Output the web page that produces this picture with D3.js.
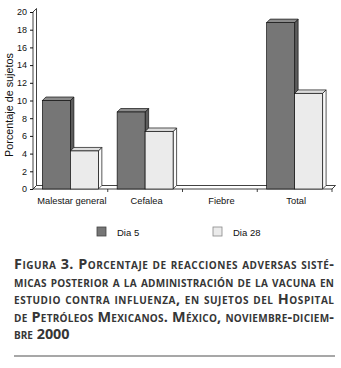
<!DOCTYPE html>
<html>
<head>
<meta charset="utf-8">
<script src="https://cdn.jsdelivr.net/npm/d3@7"></script>
<style>
  body { margin: 0; background: #fff; }
  svg { display: block; }
  .tick text { font-family: "Liberation Sans", Arial, sans-serif; fill: #111; }
  .caption { font-family: "Open Sans", sans-serif; font-weight: 700; font-variant: small-caps; fill: #363636; }
</style>
</head>
<body>
<div id="chart"></div>
<script>
// data
var categories = ["Malestar general", "Cefalea", "Fiebre", "Total"];
var seriesNames = ["Dia 5", "Dia 28"];
var dia5 = [10, 8.7, 0, 18.8];
var dia28 = [4.3, 6.5, 0, 10.8];
var yTicks = [0, 2, 4, 6, 8, 10, 12, 14, 16, 18, 20];
var yLabel = "Porcentaje de sujetos";
var captionLines = [
  "Figura 3. Porcentaje de reacciones adversas sisté-",
  "micas posterior a la administración de la vacuna en",
  "estudio contra influenza, en sujetos del Hospital",
  "de Petróleos Mexicanos. México, noviembre-diciem-",
  "bre 2000"
];

var width = 341, height = 368;
var depth = 3.5;
var colors = {
  "Dia 5": { front: "#767676", side: "#5c5c5c", top: "#8c8c8c" },
  "Dia 28": { front: "#ebebeb", side: "#fafafa", top: "#dcdcdc" }
};

var svg = d3.select("#chart")
  .append("svg")
  .attr("width", width)
  .attr("height", height);

// scales
var xScale = d3.scaleBand()
  .domain(categories)
  .range([33, 332]);

var xSub = d3.scaleBand()
  .domain(seriesNames)
  .range([9.4, xScale.bandwidth() - 9.4]);

var yScale = d3.scaleLinear()
  .domain([0, 20])
  .range([189, 12]);

var y0 = yScale(0);

// side wall (y axis)
svg.append("path")
  .attr("d", `M33,${y0} L33,${yScale(20)} L${33 + depth},${yScale(20) - depth} L${33 + depth},${y0 - depth} Z`)
  .attr("fill", "#fff")
  .attr("stroke", "#111")
  .attr("stroke-width", 0.8);

// floor
svg.append("path")
  .attr("d", `M33,${y0} L332,${y0} L${332 + depth},${y0 - depth} L${33 + depth},${y0 - depth} Z`)
  .attr("fill", "#fff")
  .attr("stroke", "#111")
  .attr("stroke-width", 0.8);

// Y axis
var yAxis = d3.axisLeft(yScale)
  .tickValues(yTicks)
  .tickSize(3)
  .tickPadding(3);

var yG = svg.append("g")
  .attr("transform", "translate(33,0)")
  .call(yAxis);
yG.select(".domain").remove();
yG.selectAll(".tick line").attr("stroke", "#111");
yG.selectAll(".tick text").style("font-size", "9px");

// Y label
svg.append("text")
  .attr("transform", `translate(12.5,105) rotate(-90)`)
  .attr("text-anchor", "middle")
  .style("font-family", "Liberation Sans, Arial, sans-serif")
  .style("font-size", "10.8px")
  .attr("fill", "#111")
  .text(yLabel);

// X axis: boundary ticks
var bounds = categories.map(c => xScale(c)).concat([xScale(categories[categories.length - 1]) + xScale.bandwidth()]);
svg.append("g")
  .selectAll("line")
  .data(bounds.slice(1))
  .enter()
  .append("line")
  .attr("x1", d => d).attr("x2", d => d)
  .attr("y1", y0).attr("y2", y0 + 3)
  .attr("stroke", "#111")
  .attr("stroke-width", 0.8);

// X labels
var xAxis = d3.axisBottom(xScale)
  .tickSize(0)
  .tickPadding(8);
var xG = svg.append("g")
  .attr("transform", `translate(1.5,${y0})`)
  .call(xAxis);
xG.select(".domain").remove();
xG.selectAll(".tick text").style("font-size", "9.3px");

// bars
var barData = [];
categories.forEach((c, i) => {
  barData.push({ cat: c, s: "Dia 5", v: dia5[i] });
  barData.push({ cat: c, s: "Dia 28", v: dia28[i] });
});
barData = barData.filter(d => d.v > 0);

var barsG = svg.append("g").attr("class", "bars");
var bw = xSub.bandwidth();

var bar = barsG.selectAll("g")
  .data(barData)
  .enter()
  .append("g");

bar.append("path")
  .attr("d", d => {
    var x = xScale(d.cat) + xSub(d.s) + bw, y = yScale(d.v);
    return `M${x},${y} L${x + depth},${y - depth} L${x + depth},${y0 - depth} L${x},${y0} Z`;
  })
  .attr("fill", d => colors[d.s].side)
  .attr("stroke", "#111")
  .attr("stroke-width", 0.7)
  .attr("stroke-linejoin", "round");

bar.append("path")
  .attr("d", d => {
    var x = xScale(d.cat) + xSub(d.s), y = yScale(d.v);
    return `M${x},${y} L${x + depth},${y - depth} L${x + bw + depth},${y - depth} L${x + bw},${y} Z`;
  })
  .attr("fill", d => colors[d.s].top)
  .attr("stroke", "#111")
  .attr("stroke-width", 0.7)
  .attr("stroke-linejoin", "round");

bar.append("rect")
  .attr("x", d => xScale(d.cat) + xSub(d.s))
  .attr("y", d => yScale(d.v))
  .attr("width", bw)
  .attr("height", d => y0 - yScale(d.v))
  .attr("fill", d => colors[d.s].front)
  .attr("stroke", "#111")
  .attr("stroke-width", 0.7);

// legend
var legendX = [97, 213];
var legend = svg.append("g")
  .selectAll("g")
  .data(seriesNames)
  .enter()
  .append("g")
  .attr("transform", (d, i) => `translate(${legendX[i]},227)`);

legend.append("rect")
  .attr("width", 9)
  .attr("height", 9)
  .attr("fill", d => colors[d].front)
  .attr("stroke", d => d === "Dia 5" ? "#444" : "#888")
  .attr("stroke-width", 0.8);

legend.append("text")
  .attr("x", 20)
  .attr("y", 8.5)
  .style("font-family", "Liberation Sans, Arial, sans-serif")
  .style("font-size", "9.5px")
  .attr("fill", "#111")
  .text(d => d);

// caption
svg.append("g")
  .selectAll("text")
  .data(captionLines)
  .enter()
  .append("text")
  .attr("class", "caption")
  .attr("x", 14)
  .attr("y", (d, i) => 269 + i * 17.5)
  .style("font-size", "14.4px")
  .attr("textLength", (d, i) => i < captionLines.length - 1 ? 320 : null)
  .attr("lengthAdjust", "spacing")
  .text(d => d);

// bottom rule
svg.append("line")
  .attr("x1", 14).attr("x2", 335)
  .attr("y1", 356).attr("y2", 356)
  .attr("stroke", "#8a8a8a")
  .attr("stroke-width", 1.5);
</script>
</body>
</html>
